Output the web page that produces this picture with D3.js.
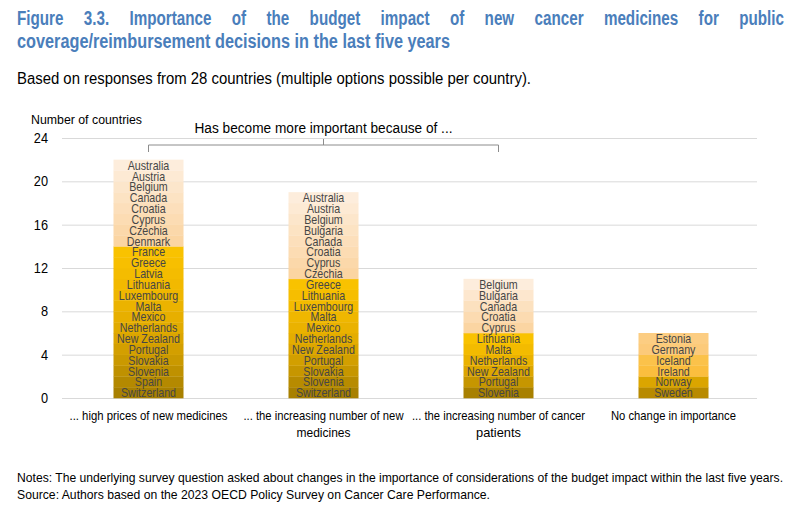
<!DOCTYPE html>
<html><head><meta charset="utf-8">
<script src="https://cdn.jsdelivr.net/npm/d3@7"></script>
<style>
body{margin:0;background:#fff;}
svg{display:block;}
</style></head>
<body>
<svg id="chart" width="800" height="513"></svg>
<script>
// ---------- data ----------
const categories = [
  ["... high prices of new medicines"],
  ["... the increasing number of new", "medicines"],
  ["... the increasing number of cancer", "patients"],
  ["No change in importance"]
];
// countries listed top to bottom as shown in each bar
const highPrices = ["Australia","Austria","Belgium","Canada","Croatia","Cyprus","Czechia","Denmark","France","Greece","Latvia","Lithuania","Luxembourg","Malta","Mexico","Netherlands","New Zealand","Portugal","Slovakia","Slovenia","Spain","Switzerland"];
const newMedicines = ["Australia","Austria","Belgium","Bulgaria","Canada","Croatia","Cyprus","Czechia","Greece","Lithuania","Luxembourg","Malta","Mexico","Netherlands","New Zealand","Portugal","Slovakia","Slovenia","Switzerland"];
const cancerPatients = ["Belgium","Bulgaria","Canada","Croatia","Cyprus","Lithuania","Malta","Netherlands","New Zealand","Portugal","Slovenia"];
const noChange = ["Estonia","Germany","Iceland","Ireland","Norway","Sweden"];
const barCountries = [highPrices, newMedicines, cancerPatients, noChange];
// number of light-shaded countries at the top of each bar
const lightCount = [8, 8, 5, 4];
const yTicks = [0, 4, 8, 12, 16, 20, 24];

// ---------- layout ----------
const svg = d3.select("#chart");
const FONT = "'Liberation Sans',Arial,sans-serif";
const NARROW = 0.82;
const x = d3.scaleBand().domain(d3.range(categories.length)).range([61, 761]).paddingInner(0.6).paddingOuter(0.3);
const y = d3.scaleLinear().domain([0, 24]).range([398, 138]);

function squeeze(sel, factor) {
  sel.each(function() {
    const w = this.getComputedTextLength();
    d3.select(this).attr("textLength", w * factor).attr("lengthAdjust", "spacingAndGlyphs");
  });
}
function fitTo(sel, width) {
  sel.attr("textLength", width).attr("lengthAdjust", "spacingAndGlyphs");
}

// title (line 1 justified, condensed glyphs)
const title = svg.append("g").attr("font-family", FONT).attr("font-weight", "bold").attr("fill", "#4a7ebb").attr("font-size", 19.5);
const line1 = "Figure 3.3. Importance of the budget impact of new cancer medicines for public".split(" ");
const TF = 0.78, tx0 = 17, tx1 = 784;
const wordEls = line1.map(w => title.append("text").attr("y", 25).text(w));
const wordW = wordEls.map(el => el.node().getComputedTextLength() * TF);
const gap = (tx1 - tx0 - d3.sum(wordW)) / (line1.length - 1);
let cx = tx0;
wordEls.forEach((el, i) => {
  el.attr("x", cx).attr("textLength", wordW[i]).attr("lengthAdjust", "spacingAndGlyphs");
  cx += wordW[i] + gap;
});
fitTo(title.append("text").attr("x", 17).attr("y", 48)
  .text("coverage/reimbursement decisions in the last five years"), 433);

fitTo(svg.append("text").attr("x", 17).attr("y", 84).attr("font-family", FONT).attr("font-size", 16).attr("fill", "#000")
  .text("Based on responses from 28 countries (multiple options possible per country)."), 514);

// grid + y axis
const yAxis = d3.axisLeft(y).tickValues(yTicks).tickSize(-(757 - 62)).tickPadding(14);
const gy = svg.append("g").attr("transform", "translate(62,0)").call(yAxis);
gy.select(".domain").remove();
gy.selectAll(".tick line").attr("stroke", "#d9d9d9").attr("stroke-width", 1);
gy.selectAll(".tick text").attr("font-family", FONT).attr("font-size", 14.5).attr("fill", "#000");
squeeze(gy.selectAll(".tick text"), 0.88);

fitTo(svg.append("text").attr("x", 31).attr("y", 124).attr("font-family", FONT).attr("font-size", 13.5).attr("fill", "#000")
  .text("Number of countries"), 111);

// colors
function segColor(bi, idxFromBottom, n) {
  const light = lightCount[bi];
  const gold = n - light;
  if (bi === 3) {
    const ramp = ["#b88a00", "#dba500", "#fbbe3e", "#fbc24a", "#fcca7a", "#fccd82"];
    return ramp[idxFromBottom];
  }
  if (idxFromBottom < gold) {
    const t = gold > 1 ? idxFromBottom / (gold - 1) : 1;
    return d3.interpolateRgbBasis(["#a88000", "#cf9c00", "#e6ae00", "#f2b900", "#f9c200"])(t);
  }
  const t = light > 1 ? (idxFromBottom - gold) / (light - 1) : 0;
  return d3.interpolateRgb("#fbd5a2", "#fdeddc")(t);
}

// bars
barCountries.forEach((list, bi) => {
  const bottomUp = list.slice().reverse();
  const segs = bottomUp.map((c, i) => ({country: c, y0: i, y1: i + 1, i}));
  const g = svg.append("g");
  g.selectAll("rect").data(segs).join("rect")
    .attr("x", x(bi)).attr("width", x.bandwidth())
    .attr("y", d => y(d.y1)).attr("height", d => y(d.y0) - y(d.y1) + 0.3)
    .attr("fill", d => segColor(bi, d.i, bottomUp.length));
  const labels = g.selectAll("text").data(segs).join("text")
    .attr("x", x(bi) + x.bandwidth() / 2)
    .attr("y", d => (y(d.y0) + y(d.y1)) / 2 + 4.6)
    .attr("text-anchor", "middle").attr("font-family", FONT).attr("font-size", 13).attr("fill", "#464646")
    .text(d => d.country);
  squeeze(labels, NARROW);
});

// category labels
const catWidths = [[158], [160, 54], [173, 45], [125]];
categories.forEach((lines, bi) => {
  const t = svg.append("text").attr("x", x(bi) + x.bandwidth() / 2).attr("y", 420)
    .attr("text-anchor", "middle").attr("font-family", FONT).attr("font-size", 13.5).attr("fill", "#000");
  lines.forEach((l, k) => fitTo(t.append("tspan").attr("x", x(bi) + x.bandwidth() / 2).attr("dy", k ? 17 : 0).text(l), catWidths[bi][k]));
});

// bracket
const bx0 = x(0) + x.bandwidth() / 2, bx2 = x(2) + x.bandwidth() / 2, bxm = (bx0 + bx2) / 2;
svg.append("path").attr("fill", "none").attr("stroke", "#8c8c8c").attr("stroke-width", 1)
  .attr("d", `M${bx0},152V145H${bx2}V152M${bxm},145V139`);
fitTo(svg.append("text").attr("x", bxm).attr("y", 133).attr("text-anchor", "middle").attr("font-family", FONT)
  .attr("font-size", 15.5).attr("fill", "#000").text("Has become more important because of ..."), 258);

// notes
const notes = svg.append("g").attr("font-family", FONT).attr("font-size", 13.5).attr("fill", "#000");
fitTo(notes.append("text").attr("x", 17).attr("y", 482)
  .text("Notes: The underlying survey question asked about changes in the importance of considerations of the budget impact within the last five years."), 766);
fitTo(notes.append("text").attr("x", 17).attr("y", 499)
  .text("Source: Authors based on the 2023 OECD Policy Survey on Cancer Care Performance."), 473);
</script>
</body></html>
